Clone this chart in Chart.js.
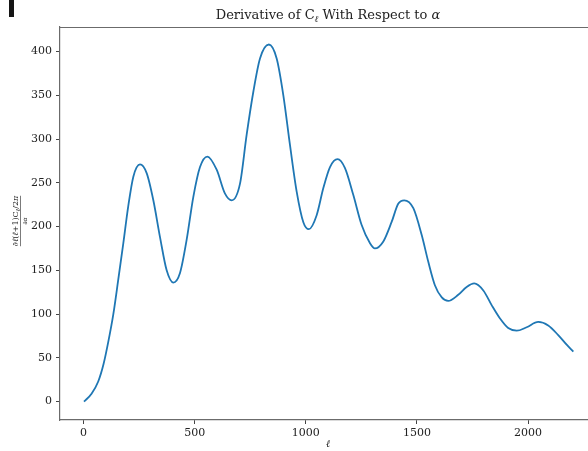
<!DOCTYPE html>
<html>
<head>
<meta charset="utf-8">
<script src="https://cdn.jsdelivr.net/npm/chart.js@4"></script>
<style>
  html, body { margin: 0; padding: 0; background: #fff; overflow: hidden; }
  #wrap { width: 588px; height: 451px; position: relative; }
</style>
</head>
<body>
<div id="wrap"><canvas id="c" width="588" height="451"></canvas></div>
<script>
// Multipole moment ℓ and the derivative of ℓ(ℓ+1)Cℓ/2π with respect to α
const ell = [2, 36, 66, 90, 111, 134, 156, 179, 201, 224, 254, 284, 314, 344, 374, 404, 434, 464,
  494, 524, 557, 599, 636, 667, 704, 734, 764, 794, 834, 869, 899, 929, 959, 989, 1014, 1049,
  1079, 1109, 1143, 1176, 1214, 1251, 1289, 1311, 1349, 1386, 1416, 1443, 1484, 1522, 1551,
  1581, 1612, 1641, 1686, 1724, 1758, 1799, 1837, 1874, 1911, 1949, 1994, 2046, 2091, 2136,
  2174, 2204];
const dCl = [0, 9, 23, 43, 68, 100, 139, 181, 223, 257, 271, 261, 230, 188, 150, 136, 147, 185,
  234, 268, 280, 265, 238, 230, 249, 305, 354, 392, 408, 392, 350, 293, 240, 205, 197, 213,
  244, 268, 277, 267, 236, 202, 181, 175, 183, 205, 226, 230, 221, 190, 160,
  133, 119, 115, 122, 131, 135, 127, 110, 95, 84, 81, 85, 91, 87, 76,
  65, 57];
const xTicks = [0, 500, 1000, 1500, 2000];
const yTicks = [0, 50, 100, 150, 200, 250, 300, 350, 400];

const SERIF = '"DejaVu Serif", "Liberation Serif", serif';
const SPINE = '#6b6b6b';
const TEXT = '#222';

// Draw a run of text pieces left to right; each piece may carry its own font and baseline shift
function drawRuns(ctx, runs, x, y, align) {
  let total = 0;
  runs.forEach(r => { ctx.font = r.font; r.w = ctx.measureText(r.t).width; total += r.w; });
  let cx = align === 'center' ? x - total / 2 : x;
  runs.forEach(r => {
    ctx.font = r.font;
    ctx.fillText(r.t, cx, y + (r.dy || 0));
    cx += r.w;
  });
  return total;
}

const decorations = {
  id: 'decorations',
  afterDraw(chart) {
    const ctx = chart.ctx;
    const area = chart.chartArea;
    ctx.save();

    // top spine
    ctx.strokeStyle = SPINE;
    ctx.lineWidth = 1.2;
    ctx.beginPath();
    ctx.moveTo(area.left, area.top + 0.5);
    ctx.lineTo(chart.width, area.top + 0.5);
    ctx.stroke();

    // small mark in the upper-left corner
    ctx.fillStyle = '#151515';
    ctx.fillRect(9, 0, 5, 17);

    ctx.fillStyle = TEXT;
    ctx.textBaseline = 'alphabetic';

    // title
    drawRuns(ctx, [
      { t: 'Derivative of C', font: '13px ' + SERIF },
      { t: 'ℓ', font: 'italic 9px ' + SERIF, dy: 3 },
      { t: ' With Respect to ', font: '13px ' + SERIF },
      { t: 'α', font: 'italic 13px ' + SERIF }
    ], 328, 19, 'center');

    // x-axis label
    drawRuns(ctx, [{ t: 'ℓ', font: 'italic 10px ' + SERIF }], 328, 447, 'center');

    // y-axis label: a fraction written along the axis
    ctx.translate(20, 221);
    ctx.rotate(-Math.PI / 2);
    const nf = '8px ' + SERIF, ni = 'italic 8px ' + SERIF, ns = 'italic 6px ' + SERIF;
    const w = drawRuns(ctx, [
      { t: '∂', font: nf }, { t: 'ℓ', font: ni }, { t: '(', font: nf }, { t: 'ℓ', font: ni },
      { t: '+1)', font: nf }, { t: 'C', font: nf }, { t: 'ℓ', font: ns, dy: 2 },
      { t: '/2', font: nf }, { t: 'π', font: ni }
    ], 0, -2, 'center');
    ctx.strokeStyle = TEXT;
    ctx.lineWidth = 0.6;
    ctx.beginPath();
    ctx.moveTo(-w / 2, 0.5);
    ctx.lineTo(w / 2, 0.5);
    ctx.stroke();
    drawRuns(ctx, [{ t: '∂', font: '6px ' + SERIF }, { t: 'α', font: 'italic 6px ' + SERIF }], 0, 6.5, 'center');

    ctx.restore();
  }
};

const tickFont = { family: SERIF, size: 11 };

new Chart(document.getElementById('c'), {
  type: 'line',
  data: {
    datasets: [{
      data: ell.map((x, i) => ({ x: x, y: dCl[i] })),
      borderColor: '#1f77b4',
      borderWidth: 1.8,
      pointRadius: 0,
      fill: false,
      cubicInterpolationMode: 'monotone'
    }]
  },
  options: {
    responsive: false,
    animation: false,
    devicePixelRatio: 1,
    layout: { padding: { top: 27, left: 0, right: 0, bottom: 0 } },
    plugins: { legend: { display: false }, tooltip: { enabled: false }, title: { display: false } },
    scales: {
      x: {
        type: 'linear',
        min: -106,
        max: 2270,
        afterBuildTicks: s => { s.ticks = xTicks.map(v => ({ value: v })); },
        afterFit: s => { s.height = 31; },
        grid: { drawOnChartArea: false, drawTicks: true, tickLength: 4, color: '#444', tickWidth: 1 },
        border: { display: true, color: SPINE, width: 1.2 },
        ticks: { font: tickFont, color: TEXT, padding: 3, maxRotation: 0, autoSkip: false,
                 callback: v => String(v) }
      },
      y: {
        type: 'linear',
        min: -21,
        max: 428,
        afterBuildTicks: s => { s.ticks = yTicks.map(v => ({ value: v })); },
        afterFit: s => { s.width = 60; },
        grid: { drawOnChartArea: false, drawTicks: true, tickLength: 4, color: '#444', tickWidth: 1 },
        border: { display: true, color: SPINE, width: 1.2 },
        ticks: { font: tickFont, color: TEXT, padding: 4, callback: v => String(v) }
      }
    }
  },
  plugins: [decorations]
});
</script>
</body>
</html>
